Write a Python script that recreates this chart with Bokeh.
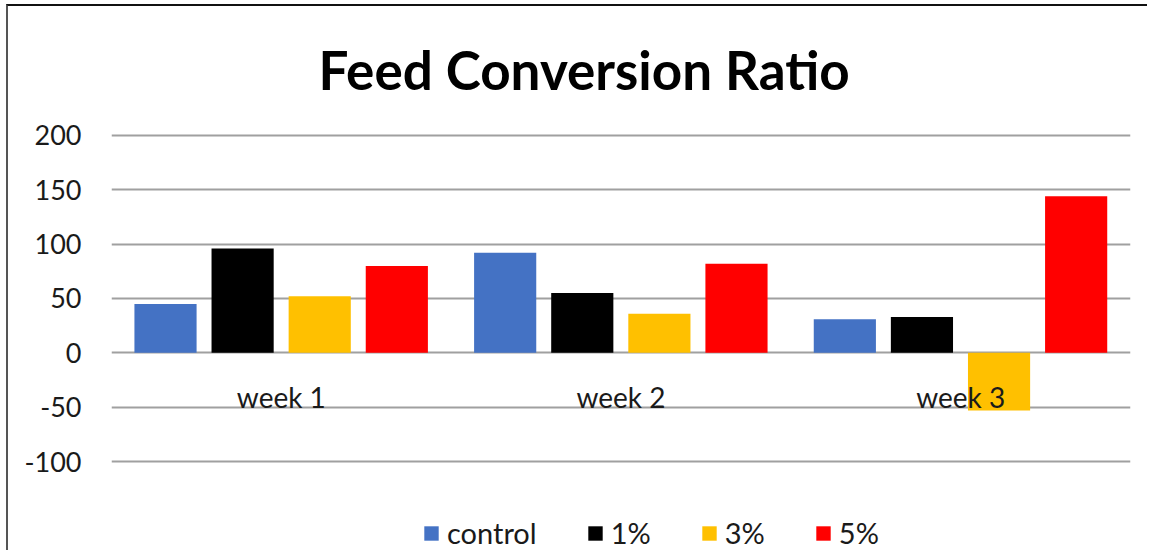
from bokeh.plotting import figure
from bokeh.models import ColumnDataSource, FactorRange, Range1d, FixedTicker, Legend, LegendItem
from bokeh.transform import dodge
from bokeh.core.properties import value
from bokeh.embed import file_html
from bokeh.resources import INLINE

weeks = ["week 1", "week 2", "week 3"]
series = ["control", "1%", "3%", "5%"]
control = [45, 92, 31]
pct1 = [96, 55, 33]
pct3 = [52, 36, -53]
pct5 = [80, 82, 144]
colors = ["#4472C4", "#000000", "#FFC000", "#FF0000"]
y_ticks = [-100, -50, 0, 50, 100, 150, 200]

FONT = "Lato"

src = ColumnDataSource(dict(weeks=weeks, control=control, pct1=pct1, pct3=pct3, pct5=pct5))

p = figure(width=1141, height=546, output_backend="svg", toolbar_location=None,
           x_range=FactorRange(*weeks, range_padding=0), y_range=Range1d(-183.7, 201.8),
           x_axis_location=None, tools="",
           min_border_left=103, min_border_right=19, min_border_top=127, min_border_bottom=0,
           title="Feed Conversion Ratio")
p.styles = {"margin-top": "4px", "margin-left": "6px",
            "border-top": "2px solid #111111", "border-left": "2px solid #555555"}
p.outline_line_color = None
p.xgrid.grid_line_color = None
p.ygrid.grid_line_color = "#a0a0a0"
p.ygrid.grid_line_width = 2
p.yaxis.ticker = FixedTicker(ticks=y_ticks)
p.yaxis.major_label_overrides = {t: str(t) for t in y_ticks}
p.yaxis.axis_line_color = None
p.yaxis.major_tick_line_color = None
p.yaxis.minor_tick_line_color = None
p.yaxis.major_tick_out = 0
p.yaxis.major_tick_in = 0
p.yaxis.major_label_standoff = 30
p.yaxis.major_label_text_font = FONT
p.yaxis.major_label_text_font_size = "27px"
p.yaxis.major_label_text_color = "#1a1a1a"

p.title.text_font = FONT
p.title.text_font_size = "53px"
p.title.text_font_style = "bold"
p.title.text_color = "#000000"
p.title.align = "left"
p.title.offset = 207
p.title.standoff = 62
p.title.vertical_align = "top"

cols = ["control", "pct1", "pct3", "pct5"]
offsets = [-0.341, -0.114, 0.113, 0.340]
items = []
for c, off, col, name in zip(cols, offsets, colors, series):
    r = p.vbar(x=dodge("weeks", off, range=p.x_range), top=c, bottom=0, width=0.183,
               source=src, fill_color=col, line_color=None)
    items.append(LegendItem(label=name, renderers=[r]))

p.text(x=weeks, y=[0] * len(weeks), text=weeks, y_offset=44,
       text_align="center", text_baseline="middle",
       text_font=value(FONT), text_font_size="28px", text_color="#1a1a1a")

legend = Legend(items=items, orientation="horizontal", location=(311, 2),
                glyph_width=18, glyph_height=18, label_standoff=7, spacing=49,
                padding=0, margin=0, border_line_color=None, background_fill_alpha=0,
                label_text_font=FONT, label_text_font_size="29px", label_text_color="#1a1a1a")
p.add_layout(legend)

open("out.html", "w").write(file_html(p, INLINE))
